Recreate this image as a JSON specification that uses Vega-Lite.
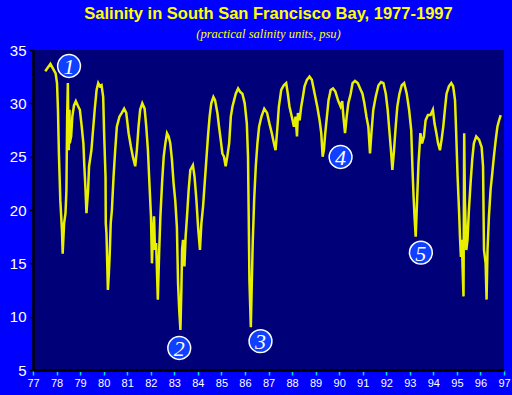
{
  "$schema": "https://vega.github.io/schema/vega-lite/v6.json",
  "autosize": "none",
  "width": 471,
  "height": 320,
  "padding": {"left": 33, "top": 50, "right": 8, "bottom": 25},
  "background": "#0000FF",
  "config": {
    "view": {"fill": "#000078", "stroke": null},
    "axis": {"grid": false, "title": null}
  },
  "title": {
    "text": "Salinity in South San Francisco Bay, 1977-1997",
    "subtitle": "(practical salinity units, psu)",
    "color": "#FFFF00",
    "font": "Liberation Sans",
    "fontSize": 16.5,
    "fontWeight": "bold",
    "subtitleColor": "#FFFF00",
    "subtitleFont": "Liberation Serif",
    "subtitleFontStyle": "italic",
    "subtitleFontSize": 12.5,
    "subtitlePadding": 5,
    "anchor": "middle",
    "offset": 3
  },
  "datasets": {
    "salinity": [
      {"year": 77.52, "psu": 33.0}, {"year": 77.74, "psu": 33.7}, {"year": 77.96, "psu": 32.8}, {"year": 78.02, "psu": 31.9},
      {"year": 78.06, "psu": 29.4}, {"year": 78.10, "psu": 25.3}, {"year": 78.16, "psu": 20.9}, {"year": 78.23, "psu": 18.1},
      {"year": 78.26, "psu": 15.9}, {"year": 78.32, "psu": 18.75}, {"year": 78.38, "psu": 19.7}, {"year": 78.42, "psu": 21.9},
      {"year": 78.45, "psu": 28.75}, {"year": 78.48, "psu": 31.9}, {"year": 78.50, "psu": 27.8}, {"year": 78.52, "psu": 25.6},
      {"year": 78.55, "psu": 29.4}, {"year": 78.56, "psu": 26.25}, {"year": 78.62, "psu": 26.9}, {"year": 78.67, "psu": 28.75},
      {"year": 78.74, "psu": 29.8}, {"year": 78.82, "psu": 30.2}, {"year": 78.90, "psu": 29.8}, {"year": 78.99, "psu": 29.4},
      {"year": 79.07, "psu": 27.8}, {"year": 79.14, "psu": 26.25}, {"year": 79.18, "psu": 24.1}, {"year": 79.23, "psu": 21.9},
      {"year": 79.27, "psu": 19.7}, {"year": 79.34, "psu": 21.9}, {"year": 79.38, "psu": 24.1}, {"year": 79.48, "psu": 25.6},
      {"year": 79.55, "psu": 27.5}, {"year": 79.62, "psu": 29.4}, {"year": 79.70, "psu": 31.25}, {"year": 79.77, "psu": 31.9},
      {"year": 79.84, "psu": 31.6}, {"year": 79.91, "psu": 31.7}, {"year": 79.98, "psu": 30.6}, {"year": 80.02, "psu": 27.2},
      {"year": 80.08, "psu": 23.1}, {"year": 80.09, "psu": 18.75}, {"year": 80.12, "psu": 17.8}, {"year": 80.18, "psu": 12.5},
      {"year": 80.22, "psu": 14.0}, {"year": 80.26, "psu": 16.0}, {"year": 80.30, "psu": 18.75}, {"year": 80.35, "psu": 20.0},
      {"year": 80.42, "psu": 23.1}, {"year": 80.49, "psu": 25.6}, {"year": 80.56, "psu": 27.8}, {"year": 80.67, "psu": 28.75},
      {"year": 80.77, "psu": 29.1}, {"year": 80.87, "psu": 29.5}, {"year": 80.96, "psu": 29.1}, {"year": 81.06, "psu": 27.2},
      {"year": 81.16, "psu": 25.9}, {"year": 81.24, "psu": 25.0}, {"year": 81.34, "psu": 24.1}, {"year": 81.41, "psu": 25.6},
      {"year": 81.48, "psu": 27.8}, {"year": 81.55, "psu": 29.4}, {"year": 81.64, "psu": 30.0}, {"year": 81.74, "psu": 29.5},
      {"year": 81.81, "psu": 27.8}, {"year": 81.88, "psu": 25.6}, {"year": 81.95, "psu": 22.2}, {"year": 82.01, "psu": 19.4},
      {"year": 82.05, "psu": 15.0}, {"year": 82.09, "psu": 17.5}, {"year": 82.14, "psu": 19.4}, {"year": 82.18, "psu": 16.25},
      {"year": 82.23, "psu": 16.9}, {"year": 82.30, "psu": 11.6}, {"year": 82.36, "psu": 16.25}, {"year": 82.41, "psu": 19.4},
      {"year": 82.48, "psu": 22.5}, {"year": 82.55, "psu": 25.0}, {"year": 82.62, "psu": 26.25}, {"year": 82.69, "psu": 27.2},
      {"year": 82.76, "psu": 26.9}, {"year": 82.83, "psu": 26.25}, {"year": 82.90, "psu": 24.7}, {"year": 82.97, "psu": 22.5},
      {"year": 83.04, "psu": 20.9}, {"year": 83.11, "psu": 18.4}, {"year": 83.16, "psu": 13.1}, {"year": 83.21, "psu": 10.6},
      {"year": 83.26, "psu": 8.75}, {"year": 83.30, "psu": 12.5}, {"year": 83.33, "psu": 16.25}, {"year": 83.37, "psu": 17.2},
      {"year": 83.43, "psu": 14.7}, {"year": 83.48, "psu": 17.5}, {"year": 83.54, "psu": 19.4}, {"year": 83.61, "psu": 21.9},
      {"year": 83.68, "psu": 23.75}, {"year": 83.79, "psu": 24.2}, {"year": 83.86, "psu": 23.1}, {"year": 83.94, "psu": 20.9},
      {"year": 84.01, "psu": 18.4}, {"year": 84.09, "psu": 16.25}, {"year": 84.15, "psu": 18.75}, {"year": 84.22, "psu": 20.3},
      {"year": 84.29, "psu": 22.5}, {"year": 84.36, "psu": 24.7}, {"year": 84.43, "psu": 26.9}, {"year": 84.50, "psu": 28.75},
      {"year": 84.57, "psu": 30.0}, {"year": 84.66, "psu": 30.6}, {"year": 84.73, "psu": 30.3}, {"year": 84.83, "psu": 29.1},
      {"year": 84.90, "psu": 27.8}, {"year": 84.97, "psu": 26.6}, {"year": 85.04, "psu": 25.3}, {"year": 85.11, "psu": 25.0},
      {"year": 85.18, "psu": 24.1}, {"year": 85.25, "psu": 25.0}, {"year": 85.33, "psu": 26.25}, {"year": 85.40, "psu": 28.75},
      {"year": 85.47, "psu": 29.7}, {"year": 85.54, "psu": 30.3}, {"year": 85.61, "psu": 30.9}, {"year": 85.71, "psu": 31.4},
      {"year": 85.79, "psu": 31.1}, {"year": 85.89, "psu": 30.9}, {"year": 85.99, "psu": 30.0}, {"year": 86.08, "psu": 28.1},
      {"year": 86.13, "psu": 25.0}, {"year": 86.16, "psu": 19.4}, {"year": 86.19, "psu": 13.4}, {"year": 86.25, "psu": 9.0},
      {"year": 86.29, "psu": 13.1}, {"year": 86.33, "psu": 16.9}, {"year": 86.39, "psu": 20.9}, {"year": 86.46, "psu": 24.1},
      {"year": 86.53, "psu": 26.25}, {"year": 86.60, "psu": 27.8}, {"year": 86.70, "psu": 28.75}, {"year": 86.82, "psu": 29.5},
      {"year": 86.94, "psu": 29.1}, {"year": 87.04, "psu": 28.1}, {"year": 87.14, "psu": 27.2}, {"year": 87.23, "psu": 26.25},
      {"year": 87.30, "psu": 25.6}, {"year": 87.37, "psu": 27.5}, {"year": 87.44, "psu": 29.7}, {"year": 87.54, "psu": 31.25},
      {"year": 87.65, "psu": 31.7}, {"year": 87.75, "psu": 31.9}, {"year": 87.82, "psu": 30.9}, {"year": 87.89, "psu": 29.7},
      {"year": 87.99, "psu": 28.75}, {"year": 88.08, "psu": 27.8}, {"year": 88.15, "psu": 28.75}, {"year": 88.21, "psu": 26.9},
      {"year": 88.25, "psu": 29.1}, {"year": 88.32, "psu": 28.4}, {"year": 88.39, "psu": 29.7}, {"year": 88.46, "psu": 30.6},
      {"year": 88.53, "psu": 31.6}, {"year": 88.63, "psu": 32.2}, {"year": 88.74, "psu": 32.5}, {"year": 88.84, "psu": 32.2},
      {"year": 88.96, "psu": 30.9}, {"year": 89.07, "psu": 29.7}, {"year": 89.17, "psu": 28.4}, {"year": 89.24, "psu": 27.2},
      {"year": 89.30, "psu": 25.0}, {"year": 89.35, "psu": 25.6}, {"year": 89.41, "psu": 27.2}, {"year": 89.48, "psu": 28.75},
      {"year": 89.55, "psu": 30.3}, {"year": 89.64, "psu": 31.25}, {"year": 89.74, "psu": 31.4}, {"year": 89.84, "psu": 31.1},
      {"year": 89.95, "psu": 30.3}, {"year": 90.06, "psu": 29.7}, {"year": 90.13, "psu": 30.2}, {"year": 90.18, "psu": 28.75},
      {"year": 90.25, "psu": 27.2}, {"year": 90.32, "psu": 28.75}, {"year": 90.39, "psu": 30.0}, {"year": 90.49, "psu": 30.9},
      {"year": 90.57, "psu": 31.9}, {"year": 90.67, "psu": 32.1}, {"year": 90.79, "psu": 31.9}, {"year": 90.89, "psu": 31.4},
      {"year": 90.99, "psu": 30.9}, {"year": 91.07, "psu": 30.0}, {"year": 91.16, "psu": 28.75}, {"year": 91.24, "psu": 27.8},
      {"year": 91.31, "psu": 25.3}, {"year": 91.38, "psu": 27.5}, {"year": 91.45, "psu": 29.4}, {"year": 91.55, "psu": 30.6},
      {"year": 91.67, "psu": 31.7}, {"year": 91.78, "psu": 32.0}, {"year": 91.88, "psu": 31.9}, {"year": 91.98, "psu": 30.9},
      {"year": 92.06, "psu": 29.4}, {"year": 92.13, "psu": 27.5}, {"year": 92.20, "psu": 25.6}, {"year": 92.26, "psu": 23.75},
      {"year": 92.33, "psu": 25.6}, {"year": 92.40, "psu": 27.8}, {"year": 92.47, "psu": 29.7}, {"year": 92.56, "psu": 30.9},
      {"year": 92.66, "psu": 31.7}, {"year": 92.76, "psu": 31.9}, {"year": 92.87, "psu": 30.9}, {"year": 92.97, "psu": 29.4},
      {"year": 93.06, "psu": 27.5}, {"year": 93.11, "psu": 24.1}, {"year": 93.16, "psu": 21.25}, {"year": 93.20, "psu": 19.4},
      {"year": 93.25, "psu": 17.5}, {"year": 93.31, "psu": 20.9}, {"year": 93.37, "psu": 24.4}, {"year": 93.45, "psu": 27.2},
      {"year": 93.52, "psu": 26.25}, {"year": 93.60, "psu": 26.9}, {"year": 93.67, "psu": 28.4}, {"year": 93.77, "psu": 28.9},
      {"year": 93.88, "psu": 28.9}, {"year": 93.98, "psu": 29.4}, {"year": 94.05, "psu": 28.1}, {"year": 94.13, "psu": 27.2},
      {"year": 94.20, "psu": 26.25}, {"year": 94.28, "psu": 25.6}, {"year": 94.35, "psu": 26.6}, {"year": 94.42, "psu": 27.8},
      {"year": 94.49, "psu": 29.4}, {"year": 94.56, "psu": 30.9}, {"year": 94.66, "psu": 31.6}, {"year": 94.76, "psu": 31.9},
      {"year": 94.84, "psu": 31.6}, {"year": 94.92, "psu": 30.3}, {"year": 94.97, "psu": 27.2}, {"year": 95.03, "psu": 23.1},
      {"year": 95.09, "psu": 20.0}, {"year": 95.13, "psu": 17.5}, {"year": 95.17, "psu": 15.6}, {"year": 95.21, "psu": 17.2},
      {"year": 95.24, "psu": 14.7}, {"year": 95.28, "psu": 11.9}, {"year": 95.31, "psu": 27.2}, {"year": 95.34, "psu": 20.9},
      {"year": 95.40, "psu": 16.25}, {"year": 95.45, "psu": 17.2}, {"year": 95.51, "psu": 20.0}, {"year": 95.58, "psu": 22.5},
      {"year": 95.65, "psu": 24.7}, {"year": 95.72, "psu": 26.25}, {"year": 95.82, "psu": 26.9}, {"year": 95.94, "psu": 26.6},
      {"year": 96.05, "psu": 25.9}, {"year": 96.11, "psu": 24.1}, {"year": 96.15, "psu": 16.25}, {"year": 96.22, "psu": 15.0},
      {"year": 96.26, "psu": 11.6}, {"year": 96.30, "psu": 16.25}, {"year": 96.36, "psu": 19.4}, {"year": 96.43, "psu": 21.9},
      {"year": 96.50, "psu": 23.4}, {"year": 96.57, "psu": 25.0}, {"year": 96.65, "psu": 26.6}, {"year": 96.72, "psu": 27.8},
      {"year": 96.79, "psu": 28.4}, {"year": 96.86, "psu": 28.9}
    ],
    "notes": [
      {"year": 78.53, "psu": 33.5, "label": "1"},
      {"year": 83.21, "psu": 7.06, "label": "2"},
      {"year": 86.66, "psu": 7.7, "label": "3"},
      {"year": 90.06, "psu": 24.97, "label": "4"},
      {"year": 93.47, "psu": 16.0, "label": "5"}
    ]
  },
  "encoding": {
    "x": {
      "field": "year", "type": "quantitative",
      "scale": {"domain": [77, 97], "nice": false, "zero": false},
      "axis": {
        "values": [77,78,79,80,81,82,83,84,85,86,87,88,89,90,91,92,93,94,95,96,97],
        "format": "d",
        "labelFont": "Liberation Sans", "labelFontSize": 11, "labelColor": "#FFFFFF",
        "labelPadding": 2, "labelFlush": false, "labelOverlap": false,
        "tickColor": "#00E0E0", "tickSize": 5, "tickWidth": 1.5,
        "domainColor": "#000000", "domainWidth": 3
      }
    },
    "y": {
      "field": "psu", "type": "quantitative",
      "scale": {"domain": [5, 35], "nice": false, "zero": false},
      "axis": {
        "values": [5,10,15,20,25,30,35],
        "labelFont": "Liberation Sans", "labelFontSize": 15, "labelColor": "#FFFFFF",
        "labelPadding": 3, "labelFlush": false, "labelOverlap": false,
        "tickColor": "#000000", "tickSize": 4, "tickWidth": 1.5,
        "domainColor": "#000000", "domainWidth": 2.5
      }
    }
  },
  "layer": [
    {
      "data": {"name": "salinity"},
      "mark": {"type": "line", "color": "#E8F000", "strokeWidth": 2.5, "strokeJoin": "miter"}
    },
    {
      "data": {"name": "notes"},
      "mark": {"type": "point", "shape": "circle", "filled": true, "size": 520, "fill": "#1040FF", "stroke": "#FFFFFF", "strokeWidth": 1.5, "opacity": 1}
    },
    {
      "data": {"name": "notes"},
      "mark": {"type": "text", "font": "Liberation Serif", "fontStyle": "italic", "fontSize": 22, "color": "#FFFFFF", "align": "center", "baseline": "middle", "dy": 1},
      "encoding": {"text": {"field": "label"}}
    }
  ]
}
